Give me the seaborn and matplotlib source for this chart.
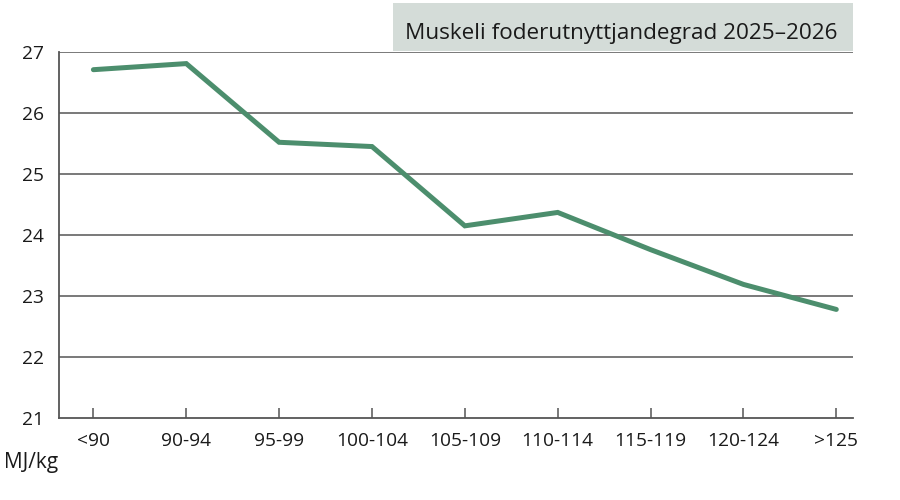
import numpy as np
import pandas as pd
import seaborn as sns
import matplotlib
matplotlib.use("Agg")
from matplotlib import pyplot as plt
from matplotlib.patches import Rectangle

categories = ["<90", "90-94", "95-99", "100-104", "105-109", "110-114", "115-119", "120-124", ">125"]
values = [26.71, 26.81, 25.52, 25.45, 24.15, 24.37, 23.76, 23.19, 22.78]
yticks = [21, 22, 23, 24, 25, 26, 27]
title = "Muskeli foderutnyttjandegrad 2025\u20132026"
unit = "MJ/kg"

sns.set_theme(style="white")
plt.rcParams["font.family"] = ["Open Sans", "DejaVu Sans"]

df = pd.DataFrame({"klass": categories, "varde": values})

fig = plt.figure(figsize=(9, 5), dpi=100)
ax = fig.add_axes([0.0656, 0.164, 0.8822, 0.732])

gridcol = "#555555"
txtcol = "#1a1a1a"
for v in yticks[1:]:
    ax.axhline(v, color=gridcol, lw=1.1, zorder=1)

sns.lineplot(data=df, x="klass", y="varde", ax=ax, color="#4c8e6d", lw=3.6,
             solid_capstyle="round", solid_joinstyle="miter", zorder=3)

ax.set_ylim(21, 27)
ax.set_xlim(-0.37, 8.18)
ax.set_yticks(yticks)
ax.set_xlabel("")
ax.set_ylabel("")

for s in ["top", "right"]:
    ax.spines[s].set_visible(False)
for s in ["left", "bottom"]:
    ax.spines[s].set_color(gridcol)
    ax.spines[s].set_linewidth(1.3)

ax.tick_params(axis="x", direction="in", length=7, width=1.1, color=gridcol,
               pad=10, labelsize=13.8, labelcolor=txtcol, bottom=True)
ax.tick_params(axis="y", length=0, pad=11, labelsize=13.8, labelcolor=txtcol)

fig.text(0.005, 0.075, unit, fontsize=15, color=txtcol, va="center", ha="left")

fig.patches.append(Rectangle((0.4367, 0.898), 0.511, 0.096, transform=fig.transFigure,
                             facecolor="#d4dcd8", edgecolor="none", zorder=0))
fig.text(0.45, 0.933, title, fontsize=16.2, color=txtcol, va="center", ha="left")

fig.savefig("out.png", dpi=100)
